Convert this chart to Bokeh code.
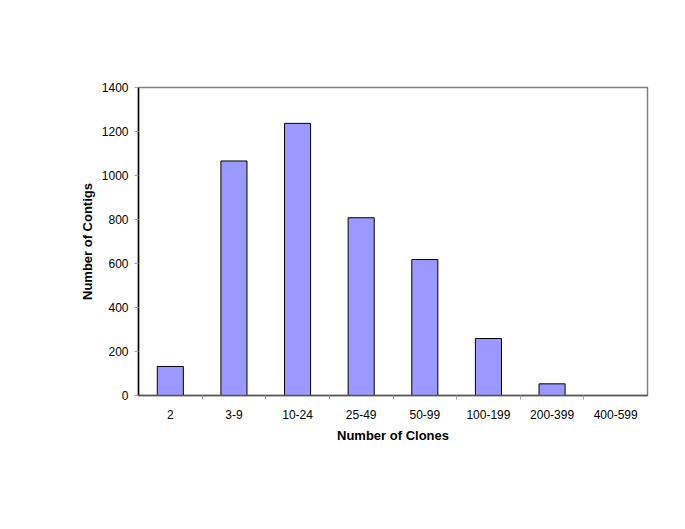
from bokeh.plotting import figure
from bokeh.models import FixedTicker, Range1d
from bokeh.embed import file_html
from bokeh.resources import INLINE

categories = ["2", "3-9", "10-24", "25-49", "50-99", "100-199", "200-399", "400-599"]
contigs = [132, 1066, 1237, 808, 618, 259, 53, 0]
y_ticks = [0, 200, 400, 600, 800, 1000, 1200, 1400]

n = len(categories)
xs = [i + 0.5 for i in range(n)]

p = figure(width=673, height=513, output_backend="svg", toolbar_location=None,
           x_range=Range1d(0, n), y_range=Range1d(0, 1400),
           min_border_left=138, min_border_right=26, min_border_top=87, min_border_bottom=118)
p.background_fill_color = "white"
p.border_fill_color = "white"
p.outline_line_color = "#808080"
p.outline_line_width = 1.5
p.xgrid.visible = False
p.ygrid.visible = False

p.vbar(x=xs, top=contigs, width=0.41, fill_color="#9999FF", line_color="black", line_width=1)

p.xaxis.ticker = FixedTicker(ticks=xs, minor_ticks=list(range(1, n)))
p.xaxis.major_label_overrides = {x: c for x, c in zip(xs, categories)}
p.xaxis.major_tick_line_color = None
p.xaxis.minor_tick_line_color = "#a0a0a0"
p.xaxis.minor_tick_out = 4
p.xaxis.minor_tick_in = 0
p.xaxis.axis_line_color = "#555555"
p.xaxis.axis_line_width = 1.5
p.xaxis.major_label_standoff = 8
p.xaxis.axis_label = "Number of Clones"
p.xaxis.axis_label_standoff = 6

p.yaxis.ticker = FixedTicker(ticks=y_ticks)
p.yaxis.major_tick_line_color = "#a0a0a0"
p.yaxis.major_tick_out = 4
p.yaxis.major_tick_in = 0
p.yaxis.minor_tick_line_color = None
p.yaxis.axis_line_color = "black"
p.yaxis.axis_line_width = 1.5
p.yaxis.major_label_standoff = 6
p.yaxis.axis_label = "Number of Contigs"
p.yaxis.axis_label_standoff = 4

for ax in (p.xaxis, p.yaxis):
    ax.major_label_text_font = "Liberation Sans"
    ax.major_label_text_font_size = "12px"
    ax.major_label_text_color = "black"
    ax.axis_label_text_font = "Liberation Sans"
    ax.axis_label_text_font_size = "13px"
    ax.axis_label_text_font_style = "bold"
    ax.axis_label_text_color = "black"

open("out.html", "w").write(file_html(p, INLINE))
